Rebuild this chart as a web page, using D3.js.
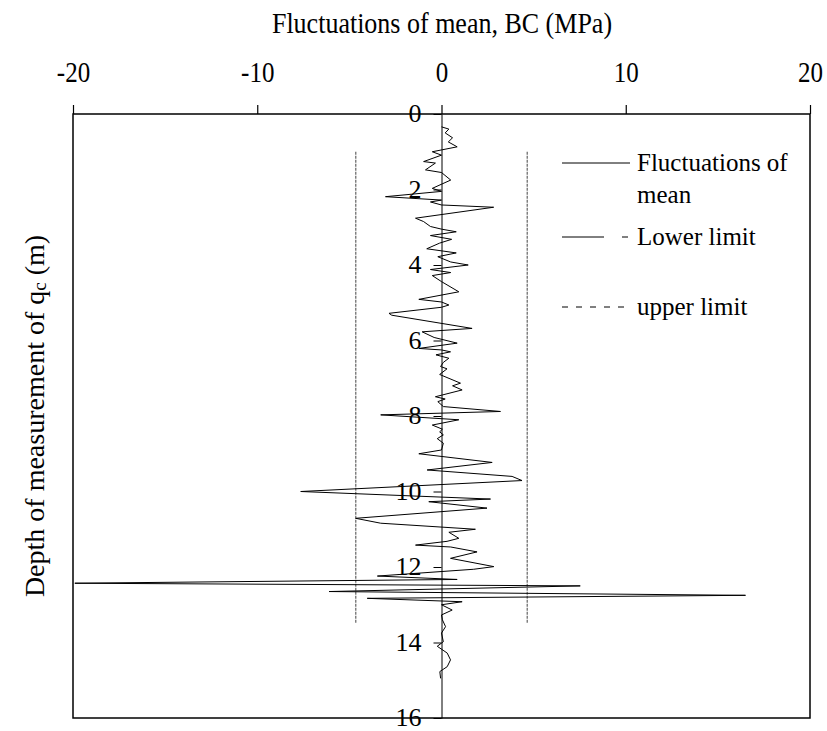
<!DOCTYPE html>
<meta charset="utf-8">
<script src="https://d3js.org/d3.v7.min.js"></script>
<style>
  body { margin: 0; background: #fff; }
  text { font-family: "Liberation Serif", "Times New Roman", serif; fill: #000; }
</style>
<div id="chart"></div>
<script>

// depth (m) and fluctuation of mean (MPa)
var depth = [0.34, 0.40, 0.50, 0.63, 0.74, 0.87, 1.00, 1.09, 1.26, 1.30, 1.48, 1.55, 1.75, 1.97, 2.05,
  2.19, 2.28, 2.33, 2.41, 2.47, 2.76, 2.85, 2.98, 3.05, 3.12, 3.22, 3.32, 3.42, 3.57, 3.68, 3.78,
  3.92, 4.00, 4.12, 4.20, 4.28, 4.44, 4.71, 4.91, 4.98, 5.06, 5.12, 5.28, 5.33, 5.68, 5.77, 5.92,
  6.07, 6.21, 6.25, 6.30, 6.38, 6.47, 6.58, 6.69, 6.75, 6.90, 7.13, 7.20, 7.31, 7.49, 7.55, 7.62,
  7.75, 7.88, 7.97, 8.10, 8.24, 8.35, 8.42, 8.50, 8.60, 8.72, 8.90, 9.00, 9.23, 9.43, 9.60, 9.71,
  10.00, 10.20, 10.27, 10.44, 10.71, 10.84, 11.00, 11.08, 11.24, 11.32, 11.42, 11.47, 11.60, 11.77,
  11.99, 12.06, 12.24, 12.33, 12.43, 12.50, 12.65, 12.75, 12.83, 12.92, 13.00, 13.14, 13.27, 13.40,
  13.58, 13.75, 13.98, 14.10, 14.28, 14.46, 14.64, 14.77, 14.95];
var fluct = [0.0, 0.4, 0.2, 0.6, 0.37, 0.85, -0.5, 0.0, -0.97, -0.33, -0.87, 0.0, 0.5, -0.5, 0.0,
  -3.04, 0.0, -0.6, 0.0, 2.83, -1.41, -0.97, -0.6, 0.0, 0.8, -0.6, 0.55, -0.1, -0.8, 0.8, -0.2,
  0.5, 1.45, -0.6, 0.5, -0.5, 0.0, 0.94, -1.23, 0.0, 0.4, 0.0, -2.85, -2.7, 1.66, -1.05, -0.4,
  0.85, -1.23, 0.0, 0.49, -0.3, 0.4, 0.1, -0.05, 0.3, -0.1, 1.03, 0.6, 1.12, -0.33, 0.2, -0.2,
  0.1, 3.2, -3.3, 0.94, -0.5, 0.05, -0.1, 0.1, -0.23, 0.1, 0.0, -1.23, 2.75, -0.78, 3.83, 4.37,
  -7.64, 2.66, -0.69, 2.47, -4.66, -3.3, 1.84, 0.4, 0.94, 0.3, -1.41, 0.5, 1.93, 0.49,
  2.84, 1.75, -3.48, 0.85, -19.9, 7.53, -6.1, 16.5, -4.03, 1.12, 0.0, 0.58, 0.0, 0.05,
  0.22, 0.0, 0.1, -0.23, 0.31, 0.49, 0.31, -0.09, -0.05];

// control limits
var lowerLimit = -4.65;
var upperLimit = 4.65;
var limitDepth = [1, 13.5];

var xTicks = [-20, -10, 0, 10, 20];
var yTicks = [0, 2, 4, 6, 8, 10, 12, 14, 16];

var margin = {top: 114, right: 17, bottom: 13, left: 73},
    width = 827 - margin.left - margin.right,
    height = 731 - margin.top - margin.bottom;

var svg = d3.select("#chart")
  .append("svg")
    .attr("width", 827)
    .attr("height", 731)
  .append("g")
    .attr("transform", "translate(" + margin.left + "," + margin.top + ")");

var x = d3.scaleLinear().domain([-20, 20]).range([0, width]);
var y = d3.scaleLinear().domain([0, 16]).range([0, height]);

// frame
svg.append("rect")
  .attr("width", width)
  .attr("height", height)
  .attr("fill", "none")
  .attr("stroke", "#000")
  .attr("stroke-width", 1.5);

// top axis
var xAxis = svg.append("g")
  .call(d3.axisTop(x).tickValues(xTicks).tickSize(9).tickSizeOuter(0));
xAxis.select(".domain").remove();
xAxis.selectAll("line").attr("stroke", "#000").attr("stroke-width", 1.2);
xAxis.selectAll("text")
  .attr("font-size", 25)
  .attr("dy", null)
  .attr("y", -32 / 1.15)
  .attr("transform", "scale(1,1.15)")
  .text(function(d) { return d < 0 ? "-" + Math.abs(d) : d; });

// limit lines
[lowerLimit, upperLimit].forEach(function(v) {
  svg.append("line")
    .attr("x1", x(v)).attr("x2", x(v))
    .attr("y1", y(limitDepth[0])).attr("y2", y(limitDepth[1]))
    .attr("stroke", "#444")
    .attr("stroke-width", 1)
    .attr("stroke-dasharray", "3,1");
});

// depth axis on the zero line
var yAxis = svg.append("g")
  .attr("transform", "translate(" + x(0) + ",0)")
  .call(d3.axisLeft(y).tickValues(yTicks).tickSize(8).tickSizeOuter(0));
yAxis.select(".domain").attr("stroke", "#000").attr("stroke-width", 1);
yAxis.selectAll("line").attr("stroke", "#000");
yAxis.selectAll("text")
  .attr("font-size", 26)
  .attr("x", -20)
  .attr("dy", "0.3em");

// fluctuation curve
var pts = depth.map(function(d, i) { return [fluct[i], d]; });
svg.append("path")
  .datum(pts)
  .attr("fill", "none")
  .attr("stroke", "#000")
  .attr("stroke-width", 1)
  .attr("d", d3.line()
    .x(function(d) { return x(d[0]); })
    .y(function(d) { return y(d[1]); }));

// titles
d3.select("svg").append("text")
  .attr("x", 442)
  .attr("y", 33 / 1.1)
  .attr("transform", "scale(1,1.1)")
  .attr("text-anchor", "middle")
  .attr("font-size", 26)
  .text("Fluctuations of mean, BC (MPa)");

var yl = d3.select("svg").append("text")
  .attr("transform", "translate(44,416) rotate(-90)")
  .attr("text-anchor", "middle")
  .attr("font-size", 28);
yl.append("tspan").text("Depth of measurement of q");
yl.append("tspan").attr("font-size", 19).attr("dy", 2).text("c");
yl.append("tspan").attr("dy", -2).text(" (m)");

// legend
var lg = d3.select("svg").append("g");
lg.append("line").attr("x1", 562).attr("x2", 630).attr("y1", 163).attr("y2", 163)
  .attr("stroke", "#000").attr("stroke-width", 1);
lg.append("line").attr("x1", 562).attr("x2", 628).attr("y1", 237).attr("y2", 237)
  .attr("stroke", "#000").attr("stroke-width", 1).attr("stroke-dasharray", "42,18,6");
lg.append("line").attr("x1", 562).attr("x2", 626).attr("y1", 307).attr("y2", 307)
  .attr("stroke", "#000").attr("stroke-width", 1).attr("stroke-dasharray", "6,8");

var legendText = [["Fluctuations of", 171], ["mean", 203], ["Lower limit", 245], ["upper limit", 315]];
lg.selectAll("text.lg")
  .data(legendText)
  .enter().append("text")
    .attr("class", "lg")
    .attr("x", 637)
    .attr("y", function(d) { return d[1]; })
    .attr("font-size", 25)
    .text(function(d) { return d[0]; });

</script>
